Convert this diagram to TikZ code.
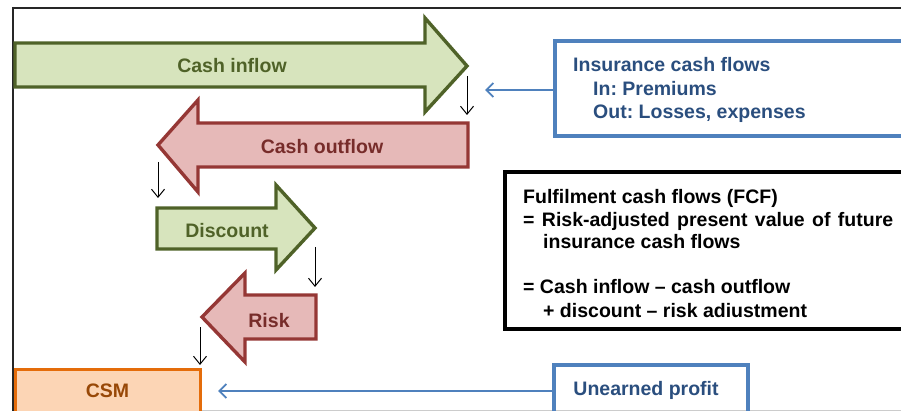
\documentclass[tikz,border=0pt]{standalone}
\usepackage{fontspec}
\setmainfont{Liberation Sans}
\usetikzlibrary{arrows.meta}
\frenchspacing
\definecolor{gfill}{HTML}{D7E4BD}
\definecolor{gline}{HTML}{4F6228}
\definecolor{rfill}{HTML}{E6B9B8}
\definecolor{rline}{HTML}{953735}
\definecolor{rtext}{HTML}{772C2A}
\definecolor{ofill}{HTML}{FCD5B5}
\definecolor{oline}{HTML}{E46C0A}
\definecolor{otext}{HTML}{984807}
\definecolor{bline}{HTML}{4F81BD}
\definecolor{btext}{HTML}{2A4E7E}
\tikzset{
  txt/.style={font=\fontsize{19.5}{23}\selectfont\bfseries\frenchspacing, inner sep=0pt},
  garrow/.style={fill=gfill, draw=gline, line width=3.4pt, line join=miter},
  rarrow/.style={fill=rfill, draw=rline, line width=3.4pt, line join=miter},
  down/.style={draw=black, line width=1pt, -{Straight Barb[length=8pt,width=13pt]}},
  bluearr/.style={draw=bline, line width=1.8pt, -{Straight Barb[length=7pt,width=14pt]}},
  bluebox/.style={draw=bline, line width=3.2pt},
}
\begin{document}
\begin{tikzpicture}[x=1pt,y=-1pt]
\useasboundingbox (0,0) rectangle (901,411);
\clip (0,0) rectangle (901,411);
% frame
\draw[line width=2.2pt, draw=black!85] (12,8) -- (905,8);
\draw[line width=2.8pt, draw=black!85] (13,7) -- (13,415);
\draw[line width=1pt, draw=black!20] (15,410.5) -- (905,410.5);

% block arrows
\draw[garrow] (15,43) -- (425,43) -- (425,18) -- (467,66) -- (425,112) -- (425,87) -- (15,87) -- cycle;
\coordinate (inTip) at (467,66);
\node[txt, text=gline, anchor=base] (lin) at (232,73) {Cash inflow};

\draw[rarrow] (468,123) -- (198,123) -- (198,100) -- (158,145) -- (198,192) -- (198,167) -- (468,167) -- cycle;
\coordinate (outTip) at (158,145);
\node[txt, text=rtext, anchor=base] (lout) at (322,154) {Cash outflow};

\draw[garrow] (157,208) -- (276,208) -- (276,185) -- (315,228) -- (276,270) -- (276,249) -- (157,249) -- cycle;
\coordinate (discTip) at (315,228);
\node[txt, text=gline, anchor=base] (ldisc) at (227,238) {Discount};

\draw[rarrow] (316,295) -- (245,295) -- (245,273) -- (202,317) -- (245,362) -- (245,339) -- (316,339) -- cycle;
\coordinate (riskTip) at (201,317);
\node[txt, text=rtext, anchor=base] (lrisk) at (269,327) {Risk};

% CSM box
\draw[fill=ofill, draw=oline, line width=3pt] (15,369) rectangle (200,425);
\node[txt, text=otext, anchor=base] (csm) at (107.5,397) {CSM};
\coordinate (csmR) at (218,391);

% small down arrows
\coordinate (d1a) at (467,76);  \coordinate (d1b) at (467,115);
\coordinate (d2a) at (158,162); \coordinate (d2b) at (158,198);
\coordinate (d3a) at (315,247); \coordinate (d3b) at (315,287);
\coordinate (d4a) at (200,327); \coordinate (d4b) at (200,365);
\draw[down] (d1a) -- (d1b);
\draw[down] (d2a) -- (d2b);
\draw[down] (d3a) -- (d3b);
\draw[down] (d4a) -- (d4b);

% insurance cash flows box
\draw[bluebox] (555,41) rectangle (920,136);
\coordinate (insL) at (555,90);
\coordinate (insEnd) at (485,90);
\node[txt, text=btext, anchor=base west] (ins1) at (573,72) {Insurance cash flows};
\node[txt, text=btext, anchor=base west] (ins2) at (593,96) {In: Premiums};
\node[txt, text=btext, anchor=base west] (ins3) at (593,119) {Out: Losses, expenses};
\draw[bluearr] (insL) -- (insEnd);

% FCF box
\draw[draw=black, line width=3.2pt] (505,172) rectangle (920,329);
\node[txt, anchor=base west] (f1) at (523,204) {Fulfilment cash flows (FCF)};
\node[txt, anchor=base west] (f2) at (523,227) {\makebox[370pt][s]{= Risk-adjusted present value of future}};
\node[txt, anchor=base west] (f3) at (543,249) {insurance cash flows};
\node[txt, anchor=base west] (f4) at (523,294) {= Cash inflow -- cash outflow};
\node[txt, anchor=base west] (f5) at (543,317) {+ discount -- risk adiustment};

% unearned profit box
\draw[bluebox] (554,365) rectangle (748,425);
\node[txt, text=btext, anchor=base] (up) at (646,395) {Unearned profit};
\coordinate (upL) at (554,391);
\draw[bluearr] (upL) -- (csmR);
\end{tikzpicture}
\end{document}
